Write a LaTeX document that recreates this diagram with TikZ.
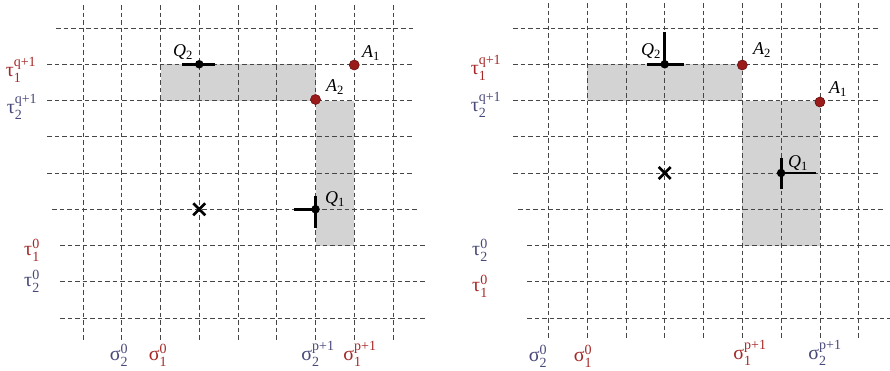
\documentclass[tikz,border=0pt]{standalone}
\usepackage{amsmath}
\usepackage{fontspec}
\setmainfont{Liberation Serif}
\usetikzlibrary{calc}
\definecolor{labred}{RGB}{165,40,40}
\definecolor{labblue}{RGB}{72,72,122}
\definecolor{dotred}{RGB}{155,27,27}
\definecolor{dotedge}{RGB}{105,15,15}
\definecolor{shade}{RGB}{211,211,211}
\definecolor{gridgray}{RGB}{70,70,70}
\newcommand\glab[3]{$\text{#1}^{\text{#2}}_{\text{#3}}$}
\newcommand\plab[2]{$\text{\itshape #1}_{\text{#2}}$}
\tikzset{
  gridline/.style={draw=gridgray, line width=0.8pt, dash pattern=on 4.5pt off 3pt},
  shaded/.style={fill=shade, draw=none},
  axlab/.style={inner sep=0pt, font=\fontsize{20}{22}\selectfont},
  ptlabel/.style={inner sep=0pt, font=\fontsize{18}{20}\selectfont},
  adot/.style={circle, fill=dotred, draw=dotedge, line width=0.6pt, minimum size=10pt, inner sep=0pt},
  qdot/.style={circle, fill=black, minimum size=8.5pt, inner sep=0pt},
  bar/.style={line width=2.8pt},
  crossmark/.style={line width=2.6pt},
}
\begin{document}
\begin{tikzpicture}[x=1pt,y=-1pt]
\useasboundingbox (0,0) rectangle (890,370);
% ---------- LEFT PANEL ----------
\fill[shaded] (160.5,64.25) rectangle (315.5,100.5);
\fill[shaded] (315.5,100.5) rectangle (354.25,245.5);
\foreach \i in {0,...,8} \draw[gridline] ({83+38.75*\i},5) -- ({83+38.75*\i},341);
\foreach \j/\a/\b in {0/56/413,1/47/413,2/47/413,3/47/413,4/47/413,5/52/418,6/60/427,7/60/427,8/60/427}
  \draw[gridline] (\a,{28+36.25*\j}) -- (\b,{28+36.25*\j});
% axis labels
\node[axlab, text=labred]  (lt1q) at (21,70)  {\glab{τ}{q+1}{1}};
\node[axlab, text=labblue] (lt2q) at (22,107) {\glab{τ}{q+1}{2}};
\node[axlab, text=labred]  (lt10) at (32,250) {\glab{τ}{0}{1}};
\node[axlab, text=labblue] (lt20) at (32,281) {\glab{τ}{0}{2}};
\node[axlab, text=labblue] (ls20) at (119,355) {\glab{σ}{0}{2}};
\node[axlab, text=labred]  (ls10) at (158,355) {\glab{σ}{0}{1}};
\node[axlab, text=labblue] (ls2p) at (318,354) {\glab{σ}{p+1}{2}};
\node[axlab, text=labred]  (ls1p) at (360,354) {\glab{σ}{p+1}{1}};
% Q2 left
\coordinate (lq2w) at (182,64.25);
\coordinate (lq2e) at (215,64.25);
\draw[bar] (lq2w) -- (lq2e);
\node[qdot] (lQ2) at (199.25,64.25) {};
\node[ptlabel] (lQ2lab) at (183,52) {\plab{Q}{2}};
% Q1 left
\coordinate (lq1w) at (294,209.25);
\coordinate (lq1n) at (315.5,196);
\coordinate (lq1s) at (315.5,228);
\draw[bar] (lq1w) -- (315.5,209.25);
\draw[bar] (lq1n) -- (lq1s);
\node[qdot] (lQ1) at (315.5,209.25) {};
\node[ptlabel] (lQ1lab) at (335,199) {\plab{Q}{1}};
% A points left
\node[adot] (lA1) at (354.25,65) {};
\node[ptlabel] (lA1lab) at (371,53) {\plab{A}{1}};
\node[adot] (lA2) at (315.5,99.5) {};
\node[ptlabel] (lA2lab) at (335,87) {\plab{A}{2}};
% cross left
\coordinate (lx) at (199.25,209.25);
\draw[crossmark] ($(lx)+(-6,-6)$) -- ($(lx)+(6,6)$) ($(lx)+(-6,6)$) -- ($(lx)+(6,-6)$);
% ---------- RIGHT PANEL ----------
\fill[shaded] (587.1,64.25) rectangle (742.3,100.5);
\fill[shaded] (742.3,100.5) rectangle (819.9,245.5);
\foreach \i in {0,...,8} \draw[gridline] ({548.3+38.8*\i},3) -- ({548.3+38.8*\i},339);
\foreach \j/\a/\b in {0/513/878,1/513/878,2/513/878,3/513/878,4/513/878,5/518/883,6/527/890,7/527/890,8/527/890}
  \draw[gridline] (\a,{28+36.25*\j}) -- (\b,{28+36.25*\j});
% axis labels
\node[axlab, text=labred]  (rt1q) at (486,68)  {\glab{τ}{q+1}{1}};
\node[axlab, text=labblue] (rt2q) at (486,105) {\glab{τ}{q+1}{2}};
\node[axlab, text=labblue] (rt20) at (480,250) {\glab{τ}{0}{2}};
\node[axlab, text=labred]  (rt10) at (480,286) {\glab{τ}{0}{1}};
\node[axlab, text=labblue] (rs20) at (538,356) {\glab{σ}{0}{2}};
\node[axlab, text=labred]  (rs10) at (583,356) {\glab{σ}{0}{1}};
\node[axlab, text=labred]  (rs1p) at (750,353) {\glab{σ}{p+1}{1}};
\node[axlab, text=labblue] (rs2p) at (825,353) {\glab{σ}{p+1}{2}};
% Q2 right
\coordinate (rq2w) at (646.5,64.25);
\coordinate (rq2e) at (684,64.25);
\coordinate (rq2n) at (664.7,32);
\draw[bar] (rq2w) -- (rq2e);
\draw[bar] (rq2n) -- (664.7,64.25);
\node[qdot] (rQ2) at (664.7,64.25) {};
\node[ptlabel] (rQ2lab) at (651,51) {\plab{Q}{2}};
% Q1 right
\coordinate (rq1e) at (816,173);
\coordinate (rq1n) at (781.1,158);
\coordinate (rq1s) at (781.1,189);
\draw[bar] (781.1,173) -- (rq1e);
\draw[bar] (rq1n) -- (rq1s);
\node[qdot] (rQ1) at (781.1,173) {};
\node[ptlabel] (rQ1lab) at (798,163) {\plab{Q}{1}};
% A points right
\node[adot] (rA2) at (742.3,65) {};
\node[ptlabel] (rA2lab) at (762,50) {\plab{A}{2}};
\node[adot] (rA1) at (819.9,102) {};
\node[ptlabel] (rA1lab) at (838,89) {\plab{A}{1}};
% cross right
\coordinate (rx) at (664.7,173);
\draw[crossmark] ($(rx)+(-6,-6)$) -- ($(rx)+(6,6)$) ($(rx)+(-6,6)$) -- ($(rx)+(6,-6)$);
\end{tikzpicture}
\end{document}
